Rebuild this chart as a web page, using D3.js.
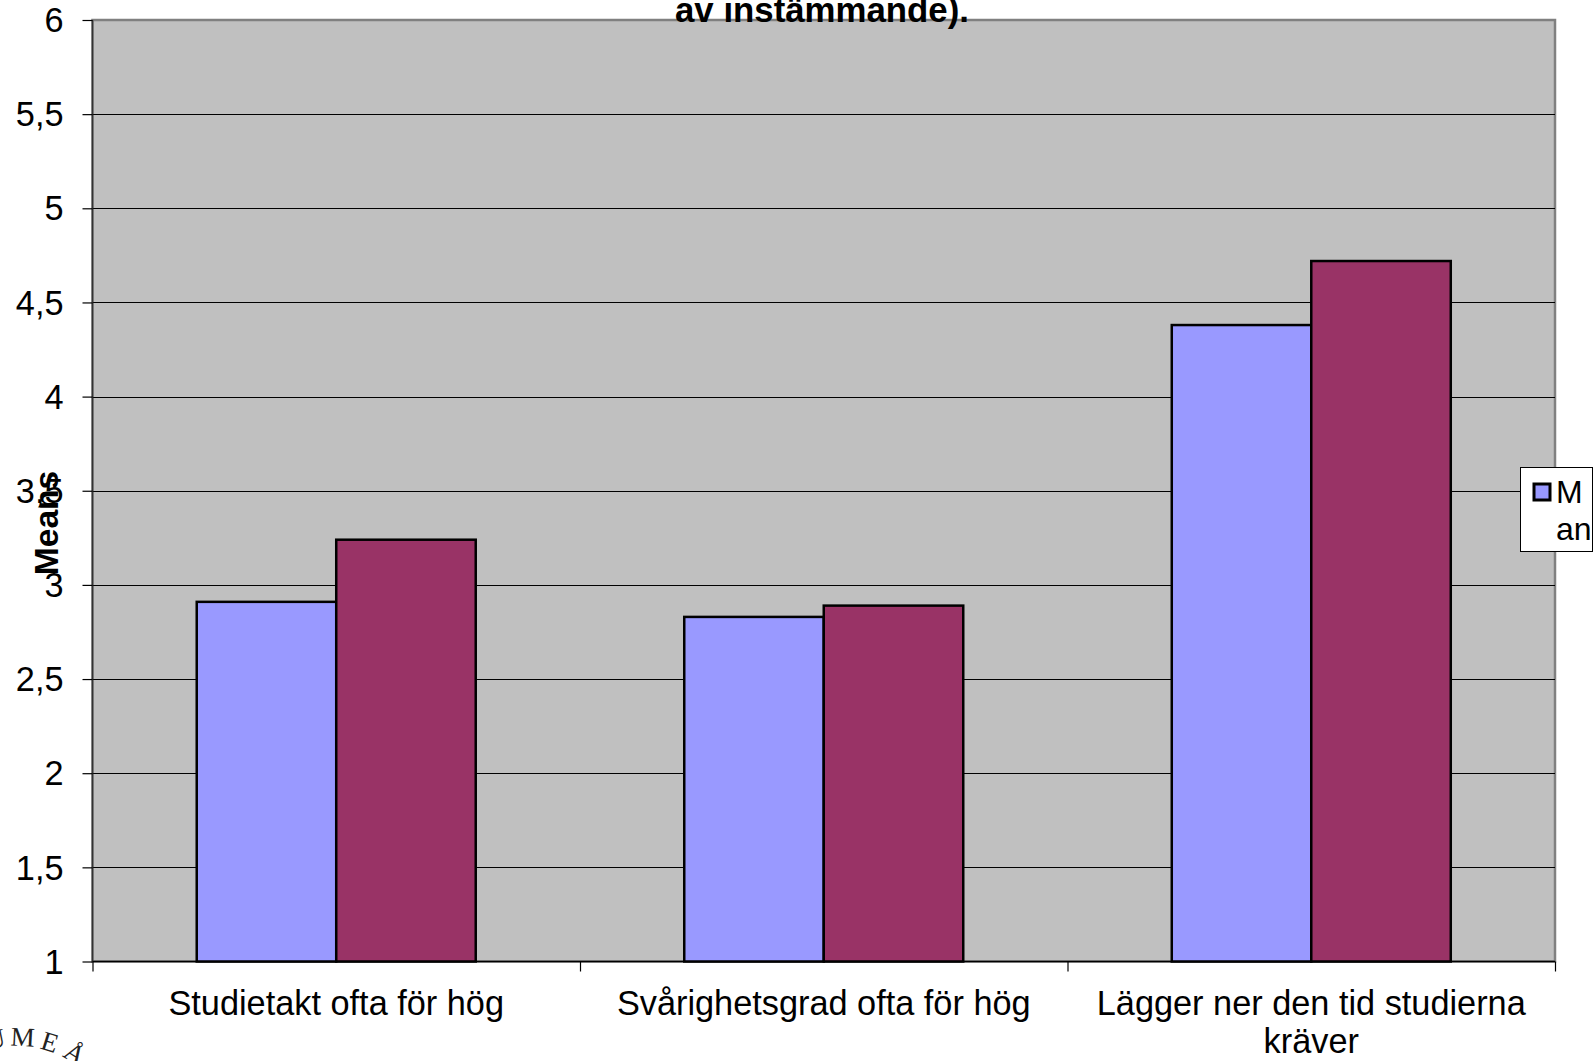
<!DOCTYPE html>
<html><head><meta charset="utf-8">
<script src="https://cdn.jsdelivr.net/npm/d3@7"></script>
<style>html,body{margin:0;padding:0;background:#fff}svg{display:block;font-family:"Liberation Sans",Arial,sans-serif}</style>
</head><body><svg id="c" width="1595" height="1061"></svg>
<script>
const categories = [["Studietakt ofta för hög"],["Svårighetsgrad ofta för hög"],["Lägger ner den tid studierna","kräver"]];
const seriesA = [2.91,2.83,4.38];
const seriesB = [3.24,2.89,4.72];
const yTicks = [1,1.5,2,2.5,3,3.5,4,4.5,5,5.5,6];
const titleText = "av instämmande).";
const yTitle = "Means";
const legendLines = ["M","an"];
const logoLetters = ["U","M","E","Å"];
const colors = ["#9999FF","#993366"];

const svg = d3.select("#c");
const L=92.5,R=1555,T=20,B=961.5;
const y = d3.scaleLinear().domain([1,6]).range([B,T]);
const x = d3.scaleBand().domain(d3.range(categories.length)).range([L,R]).paddingInner(0.4277).paddingOuter(0.2138);
const x1 = d3.scaleBand().domain([0,1]).range([0,x.bandwidth()]);
const fmt = d => String(d).replace(".",",");

svg.append("rect").attr("x",L).attr("y",T).attr("width",R-L).attr("height",B-T).attr("fill","#C0C0C0").attr("stroke","#808080").attr("stroke-width",2.5);
svg.selectAll("line.g").data(yTicks.slice(1,-1)).join("line").attr("class","g")
  .attr("x1",L).attr("x2",R).attr("y1",d=>Math.round(y(d))+.5).attr("y2",d=>Math.round(y(d))+.5).attr("stroke","#000").attr("stroke-width",1);

const yAxis = d3.axisLeft(y).tickValues(yTicks).tickFormat(fmt).tickSize(10).tickPadding(19);
const gy = svg.append("g").attr("transform",`translate(${L},0)`).call(yAxis);
gy.select(".domain").attr("stroke","#333").attr("stroke-width",1.5).attr("d",`M0,${T}V${B}`);
gy.selectAll("line").attr("stroke","#000").attr("stroke-width",1.2);
gy.selectAll("text").attr("font-size",34.3).attr("fill","#000").attr("font-family","Liberation Sans").attr("y",0.7);

const xAxis = d3.axisBottom(d3.scaleLinear().domain([0,3]).range([L,R])).tickValues([0,1,2,3]).tickFormat("").tickSize(10);
const gx = svg.append("g").attr("transform",`translate(0,${B})`).call(xAxis);
gx.select(".domain").attr("stroke","#000").attr("stroke-width",1.5).attr("d",`M${L},0H${R}`);
gx.selectAll("line").attr("stroke","#000").attr("stroke-width",1.2);

[seriesA,seriesB].forEach((s,k)=>{
  svg.append("g").selectAll("rect").data(s).join("rect")
    .attr("x",(d,i)=>x(i)+x1(k)).attr("width",x1.bandwidth())
    .attr("y",d=>y(d)).attr("height",d=>B-y(d))
    .attr("fill",colors[k]).attr("stroke","#000").attr("stroke-width",2.5);
});

categories.forEach((lines,i)=>{
  lines.forEach((t,j)=>{
    svg.append("text").attr("x",x(i)+x.bandwidth()/2).attr("y",1014.5+j*38.5).attr("text-anchor","middle").attr("font-size",34.3).attr("fill","#000").text(t);
  });
});

svg.append("text").attr("x",822).attr("y",22).attr("text-anchor","middle").attr("font-size",34.8).attr("font-weight","bold").text(titleText);
svg.append("text").attr("transform","translate(58,523) rotate(-90)").attr("text-anchor","middle").attr("font-size",33.6).attr("font-weight","bold").text(yTitle);

svg.append("rect").attr("x",1520.5).attr("y",467.5).attr("width",72).attr("height",84).attr("fill","#fff").attr("stroke","#000").attr("stroke-width",1);
svg.append("rect").attr("x",1534).attr("y",484).attr("width",16).attr("height",16).attr("fill",colors[0]).attr("stroke","#000").attr("stroke-width",3);
legendLines.forEach((t,j)=>svg.append("text").attr("x",1556).attr("y",503+j*37).attr("font-size",32).attr("fill","#000").text(t));

// curved seal text, partly cut off at the page edge
const cx=17, cy=1146, r=100;
logoLetters.forEach((c,i)=>{
  const a = -11.5 + i*14.5;
  const rad = a*Math.PI/180;
  svg.append("text").attr("text-anchor","middle").attr("font-family","Liberation Serif").attr("font-size",27).attr("fill","#222")
    .attr("transform",`translate(${cx+r*Math.sin(rad)},${cy-r*Math.cos(rad)}) rotate(${a})`).text(c);
});
</script></body></html>
